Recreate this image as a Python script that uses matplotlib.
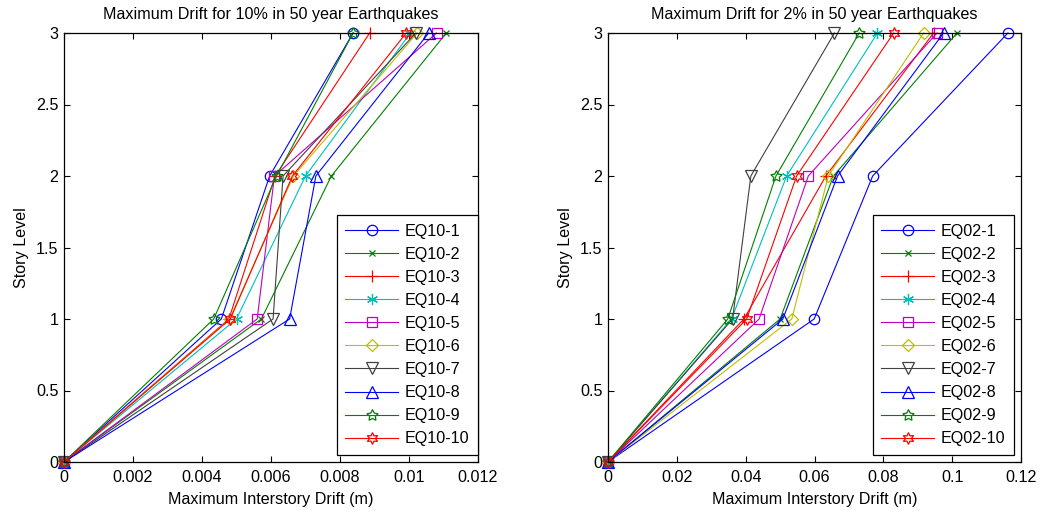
import matplotlib
matplotlib.use("Agg")
import matplotlib.pyplot as plt
from matplotlib.ticker import FixedLocator, FixedFormatter

plt.rcParams['font.family'] = ['Liberation Sans', 'DejaVu Sans']
FS = 11.6
plt.rcParams['font.size'] = FS

story = [0, 1, 2, 3]

labels_10 = ["EQ10-1", "EQ10-2", "EQ10-3", "EQ10-4", "EQ10-5",
             "EQ10-6", "EQ10-7", "EQ10-8", "EQ10-9", "EQ10-10"]
eq10_1 = [0, 0.00456, 0.00596, 0.00838]
eq10_2 = [0, 0.00572, 0.00775, 0.01108]
eq10_3 = [0, 0.00478, 0.00612, 0.00886]
eq10_4 = [0, 0.00500, 0.00700, 0.01004]
eq10_5 = [0, 0.00560, 0.00610, 0.01080]
eq10_6 = [0, 0.00480, 0.00665, 0.01024]
eq10_7 = [0, 0.00606, 0.00635, 0.01020]
eq10_8 = [0, 0.00654, 0.00730, 0.01057]
eq10_9 = [0, 0.00434, 0.00616, 0.00838]
eq10_10 = [0, 0.00482, 0.00662, 0.00992]

labels_02 = ["EQ02-1", "EQ02-2", "EQ02-3", "EQ02-4", "EQ02-5",
             "EQ02-6", "EQ02-7", "EQ02-8", "EQ02-9", "EQ02-10"]
eq02_1 = [0, 0.0599, 0.0769, 0.1162]
eq02_2 = [0, 0.0500, 0.0655, 0.1014]
eq02_3 = [0, 0.0395, 0.0633, 0.0946]
eq02_4 = [0, 0.0359, 0.0519, 0.0783]
eq02_5 = [0, 0.0439, 0.0582, 0.0956]
eq02_6 = [0, 0.0534, 0.0640, 0.0917]
eq02_7 = [0, 0.0362, 0.0415, 0.0658]
eq02_8 = [0, 0.0508, 0.0667, 0.0975]
eq02_9 = [0, 0.0348, 0.0488, 0.0730]
eq02_10 = [0, 0.0403, 0.0548, 0.0830]

xticks_10 = [0, 0.002, 0.004, 0.006, 0.008, 0.010, 0.012]
xticklabels_10 = ["0", "0.002", "0.004", "0.006", "0.008", "0.01", "0.012"]
xticks_02 = [0, 0.02, 0.04, 0.06, 0.08, 0.10, 0.12]
xticklabels_02 = ["0", "0.02", "0.04", "0.06", "0.08", "0.1", "0.12"]
yticks = [0, 0.5, 1, 1.5, 2, 2.5, 3]
yticklabels = ["0", "0.5", "1", "1.5", "2", "2.5", "3"]

# MATLAB-style line colours and marker cycle
colors = [(0, 0, 1), (0, 0.5, 0), (1, 0, 0), (0, 0.75, 0.75), (0.75, 0, 0.75),
          (0.75, 0.75, 0), (0.25, 0.25, 0.25), (0, 0, 1), (0, 0.5, 0), (1, 0, 0)]
markers = ['o', 'x', '+', (6, 2, 0), 's', 'D', 'v', '^', (5, 1, 0), (6, 1, 0)]
msizes = [7.5, 4.5, 9, 8, 7, 6.5, 9, 9, 8.5, 8.5]

fig = plt.figure(figsize=(10.45, 5.12), dpi=100)
ax1 = fig.add_axes([64 / 1045, 50 / 512, 414 / 1045, 429 / 512])
ax2 = fig.add_axes([608 / 1045, 50 / 512, 413 / 1045, 429 / 512])


def draw(ax, series, labels, xticks, xticklabels, xmax, title, leg_right):
    for i, (vals, lab) in enumerate(zip(series, labels)):
        ax.plot(vals, story, color=colors[i], marker=markers[i], ms=msizes[i],
                mfc='none', mec=colors[i], mew=0.9, lw=0.8, label=lab,
                clip_on=False)
    ax.set_xlim(0, xmax)
    ax.set_ylim(0, 3)
    ax.xaxis.set_major_locator(FixedLocator(xticks))
    ax.xaxis.set_major_formatter(FixedFormatter(xticklabels))
    ax.yaxis.set_major_locator(FixedLocator(yticks))
    ax.yaxis.set_major_formatter(FixedFormatter(yticklabels))
    ax.tick_params(direction='in', top=True, right=True, length=4,
                   width=0.8, labelsize=FS)
    ax.tick_params(axis='x', pad=6)
    ax.tick_params(axis='y', pad=4)
    for sp in ax.spines.values():
        sp.set_linewidth(0.9)
    ax.set_title(title, fontsize=FS, pad=10)
    ax.set_xlabel("Maximum Interstory Drift (m)", fontsize=FS, labelpad=5)
    ax.set_ylabel("Story Level", fontsize=FS, labelpad=5)
    leg = ax.legend(loc='lower right', bbox_to_anchor=(leg_right, 0.016),
                    borderaxespad=0, fancybox=False, framealpha=1,
                    edgecolor='black', handlelength=3.25, labelspacing=0.5,
                    fontsize=FS, borderpad=0.55, handletextpad=0.42)
    leg.get_frame().set_linewidth(0.9)


draw(ax1, [eq10_1, eq10_2, eq10_3, eq10_4, eq10_5, eq10_6, eq10_7, eq10_8,
           eq10_9, eq10_10], labels_10, xticks_10, xticklabels_10, 0.012,
     "Maximum Drift for 10% in 50 year Earthquakes", 1.0)
draw(ax2, [eq02_1, eq02_2, eq02_3, eq02_4, eq02_5, eq02_6, eq02_7, eq02_8,
           eq02_9, eq02_10], labels_02, xticks_02, xticklabels_02, 0.12,
     "Maximum Drift for 2% in 50 year Earthquakes", 0.983)

fig.savefig("out.png", dpi=100)
